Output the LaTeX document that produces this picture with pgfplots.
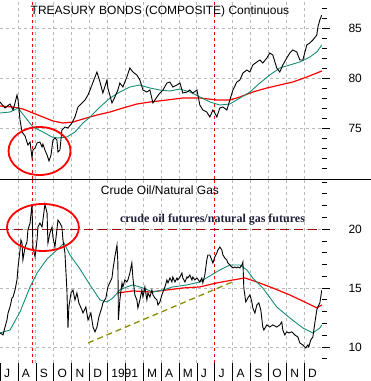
\documentclass[border=0pt]{standalone}
\usepackage{pgfplots}
\pgfplotsset{compat=1.18}
\usepackage{fontspec}
\setmainfont{Liberation Sans}
\newfontfamily\serifb{Liberation Serif}
\definecolor{maone}{RGB}{20,140,120}
\definecolor{gridgray}{RGB}{185,185,185}
\definecolor{darkredd}{RGB}{160,10,10}
\definecolor{olivel}{RGB}{140,140,0}
\definecolor{notetext}{RGB}{30,30,60}
\begin{document}
\begin{tikzpicture}
\useasboundingbox (0,0) rectangle (371pt,-381pt);
\pgfplotsset{
  common/.style={scale only axis, width=322pt, xmin=0, xmax=18,
    axis line style={draw=none},
    tick align=outside, ytick pos=right, yticklabel pos=right,
    major tick length=8pt, minor tick length=5pt,
    tick style={black, line width=0.6pt},
    xmajorgrids, ymajorgrids,
    grid style={gridgray, dash pattern=on 3pt off 3pt, line width=0.6pt},
    /pgf/number format/assume math mode=true,
    ticklabel style={font=\fontsize{12}{14}\selectfont},
    yticklabel style={anchor=west, xshift=15pt},
    xtick={1,...,17}, xticklabels={}, xmajorticks=false,
    extra x ticks={1.81,12}, extra x tick labels={},
    extra x tick style={major tick length=0pt, major grid style={red, dash pattern=on 3pt off 3pt, line width=0.8pt}},
  }
}
% ---------- top panel ----------
\begin{axis}[common, at={(0,0)}, anchor=north west, height=179pt,
  ymin=69.9, ymax=87.8, ytick={75,80,85}, minor ytick={71,...,87}]
\addplot[red, line width=1.2pt] coordinates {
(0,77.2) (0.73,77.1) (1.28,76.9) (1.84,76.5) (2.40,76.1) (2.96,75.7) (3.52,75.5)
(4.08,75.6) (4.64,75.9) (5.42,76.3) (6.15,76.6) (6.87,77.0) (7.65,77.4) (8.38,77.6)
(9.33,77.8) (10.22,78.0) (11.17,78.0) (12.12,77.8) (12.85,77.8) (13.41,78.1)
(14.13,78.6) (14.92,79.0) (15.64,79.3) (16.37,79.6) (17.15,80.1) (17.99,80.7)};
\addplot[maone, line width=0.9pt] coordinates {
(0,76.5) (0.56,76.6) (1.01,77.0) (1.40,76.1) (1.84,75.1) (2.40,74.6) (2.91,74.1)
(3.24,74.0) (3.74,74.1) (4.19,74.6) (4.64,75.5) (5.03,76.1) (5.59,77.1) (6.15,78.0)
(6.70,78.6) (7.26,79.1) (7.82,79.3) (8.38,79.0) (8.94,78.8) (9.50,78.7) (10.06,78.9)
(10.61,78.6) (11.17,78.1) (11.73,77.6) (12.29,77.3) (12.85,77.4) (13.41,78.0)
(13.97,78.6) (14.53,79.5) (15.08,80.3) (15.64,81.0) (16.20,81.3) (16.76,81.6)
(17.32,82.1) (17.71,82.6) (17.99,83.3)};
\addplot[black, line width=0.9pt] coordinates {
(0,77.6) (0.28,77.0) (0.56,77.4) (0.73,76.8) (0.84,77.5) (0.95,78.3) (1.01,77.8)
(1.12,75.8) (1.23,74.6) (1.40,74.2) (1.56,73.3) (1.68,73.6) (1.79,72.0) (1.84,72.8)
(1.96,73.0) (2.07,73.5) (2.23,73.6) (2.35,73.1) (2.40,73.4) (2.51,72.8) (2.63,72.3)
(2.74,71.7) (2.85,72.3) (2.96,73.8) (3.07,74.0) (3.18,73.8) (3.24,72.6) (3.35,72.8)
(3.46,74.8) (3.63,75.1) (3.80,75.0) (4.02,75.5) (4.19,76.1) (4.36,77.1) (4.58,77.5)
(4.75,77.8) (4.92,78.3) (5.14,79.3) (5.42,80.6) (5.59,79.6) (5.75,78.5) (5.98,79.8)
(6.03,79.0) (6.26,77.5) (6.42,78.1) (6.59,78.8) (6.70,79.5) (6.87,79.1) (7.09,80.1)
(7.26,81.0) (7.43,80.6) (7.65,80.3) (7.82,79.8) (7.99,78.8) (8.21,78.6) (8.38,78.8)
(8.55,77.5) (8.77,78.1) (8.94,78.5) (9.11,78.8) (9.33,79.5) (9.50,79.6) (9.66,79.1)
(9.89,79.3) (10.06,79.5) (10.22,78.5) (10.45,78.6) (10.61,78.8) (10.78,78.5)
(11.01,78.8) (11.17,77.3) (11.34,76.8) (11.56,76.6) (11.73,76.1) (11.90,76.8)
(12.01,76.5) (12.12,76.1) (12.29,77.0) (12.46,77.1) (12.68,76.8) (12.85,77.8)
(13.02,78.8) (13.24,79.6) (13.41,79.8) (13.58,80.5) (13.80,80.8) (13.97,80.6)
(14.13,81.3) (14.36,81.6) (14.53,81.8) (14.69,81.5) (14.92,82.0) (15.08,82.5)
(15.25,82.3) (15.47,81.0) (15.64,80.6) (15.81,81.3) (16.03,82.0) (16.20,82.5)
(16.37,82.8) (16.59,82.6) (16.76,81.8) (16.93,81.8) (17.15,83.3) (17.32,83.5)
(17.49,83.8) (17.71,84.3) (17.77,85.1) (17.88,85.8) (17.99,86.3)};
\draw[red, line width=1.8pt] (axis cs:2.21,72.7) ellipse [x radius=31pt, y radius=24pt];
\draw[black, line width=0.8pt] (rel axis cs:1,0) -- (rel axis cs:1,1);
\end{axis}
% ---------- bottom panel ----------
\begin{axis}[common, at={(0,-179pt)}, anchor=north west, height=184pt,
  ymin=8.64, ymax=24.24, ytick={10,15,20}, minor ytick={9,...,24}]
\addplot[darkredd, line width=1pt, dash pattern=on 9pt off 5pt] coordinates {(0,20) (17.9,20)};
\addplot[olivel, line width=1.3pt, dash pattern=on 6pt off 4pt] coordinates {(4.92,10.34) (13.13,15.6)};
\addplot[red, line width=1.2pt] coordinates {
(6.59,14.58) (7.43,14.75) (8.38,14.66) (9.33,14.83) (10.22,15.00) (11.17,15.09)
(12.12,15.43) (13.02,15.68) (13.69,15.85) (14.36,15.51) (15.25,15.00) (16.20,14.41)
(17.15,13.73) (17.71,13.31) (17.99,13.56)};
\addplot[maone, line width=0.9pt] coordinates {
(0,11.19) (0.56,11.44) (1.12,12.97) (1.68,15.09) (2.07,16.27) (2.63,17.46)
(3.18,18.22) (3.58,18.81) (3.91,17.80) (4.47,16.61) (5.03,15.26) (5.59,13.99)
(5.98,13.82) (6.31,14.15) (6.70,14.83) (7.09,15.09) (7.43,15.26) (7.99,15.00)
(8.55,14.66) (9.11,14.83) (9.66,15.09) (10.45,15.26) (11.17,15.51) (11.73,16.02)
(12.29,16.53) (12.85,16.95) (13.41,16.95) (13.80,16.53) (14.13,15.85) (14.69,15.00)
(15.47,13.39) (16.20,12.46) (16.93,11.61) (17.49,11.19) (17.88,11.61) (17.99,11.87)};
\addplot[black, line width=0.9pt] coordinates {
(0,11.19) (0.17,11.02) (0.28,11.69) (0.39,12.29) (0.45,12.88) (0.56,13.39) (0.67,14.15)
(0.73,14.24) (0.84,14.83) (0.95,15.68) (1.01,16.78) (1.12,18.22) (1.17,19.07)
(1.23,18.81) (1.28,17.37) (1.40,18.47) (1.51,18.90) (1.56,19.92) (1.68,20.51)
(1.79,22.1) (1.84,18.47) (1.96,17.63) (2.07,19.07) (2.12,20.17) (2.23,20.51)
(2.35,20.17) (2.40,20.76) (2.51,22.1) (2.63,21.36) (2.68,18.81) (2.79,19.66)
(2.91,20.17) (2.96,19.32) (3.07,18.47) (3.18,19.92) (3.24,20.76) (3.35,20.51)
(3.46,20.17) (3.52,19.07) (3.63,17.97) (3.74,14.83) (3.80,11.61) (3.85,13.39)
(3.97,14.58) (4.08,14.83) (4.19,13.99) (4.30,14.58) (4.41,13.73) (4.58,13.14)
(4.64,12.88) (4.80,13.39) (4.92,12.29) (5.08,12.88) (5.20,11.69) (5.31,11.28)
(5.42,11.69) (5.53,12.55) (5.70,13.39) (5.75,13.73) (5.92,14.15) (6.03,15.09)
(6.26,15.85) (6.31,16.53) (6.42,17.63) (6.54,18.64) (6.59,17.12) (6.62,12.29)
(6.70,13.99) (6.82,15.43) (6.87,15.09) (6.98,15.68) (7.09,15.51) (7.15,15.68)
(7.26,16.27) (7.37,17.12) (7.43,15.85) (7.54,14.41) (7.65,13.99) (7.71,13.31)
(7.82,13.99) (7.93,14.83) (7.99,14.24) (8.10,15.09) (8.21,13.99) (8.27,14.58)
(8.38,14.24) (8.49,14.83) (8.55,14.41) (8.66,14.15) (8.77,13.99) (8.83,13.56)
(8.94,13.82) (9.05,14.41) (9.11,14.66) (9.22,15.09) (9.33,15.68) (9.39,15.43)
(9.50,15.85) (9.61,15.51) (9.66,15.93) (9.78,15.51) (9.89,15.85) (9.94,15.68)
(10.06,15.93) (10.17,16.27) (10.22,15.85) (10.34,15.51) (10.45,15.93) (10.50,15.85)
(10.61,16.10) (10.73,15.68) (10.78,15.93) (10.89,15.68) (11.01,15.85) (11.17,15.51)
(11.28,15.85) (11.34,15.43) (11.45,16.10) (11.56,17.37) (11.62,17.80) (11.73,17.80)
(11.90,17.12) (12.01,17.63) (12.12,17.97) (12.18,18.22) (12.29,18.47) (12.40,18.22)
(12.46,17.80) (12.57,17.54) (12.68,17.37) (12.74,17.12) (12.85,16.95) (12.96,16.78)
(13.02,16.70) (13.13,16.78) (13.24,16.70) (13.30,16.78) (13.41,16.70) (13.52,16.95)
(13.58,17.20) (13.63,15.00) (13.74,13.82) (13.85,14.15) (13.97,14.41) (14.08,13.82)
(14.13,13.31) (14.25,12.88) (14.36,13.56) (14.47,13.73) (14.58,13.14) (14.69,11.69)
(14.75,11.44) (14.92,11.87) (15.08,11.69) (15.25,11.87) (15.47,11.69) (15.64,11.87)
(15.75,12.12) (15.81,11.44) (15.92,11.02) (16.03,11.28) (16.15,11.19) (16.31,11.28)
(16.48,11.02) (16.65,10.85) (16.76,10.34) (16.93,10.17) (17.09,9.92) (17.21,10.17)
(17.26,10.00) (17.37,10.59) (17.49,10.85) (17.60,12.04) (17.71,13.14) (17.77,13.39)
(17.88,13.73) (17.99,14.83)};
\draw[red, line width=1.8pt] (axis cs:2.40,20.13) ellipse [x radius=36pt, y radius=23.5pt];
\draw[black, line width=0.8pt] (rel axis cs:1,0) -- (rel axis cs:1,1);
\end{axis}
% ---------- month labels ----------
\begin{axis}[at={(0,-179pt)}, anchor=north west, scale only axis, width=322pt, height=184pt,
  xmin=0, xmax=18, ymin=0, ymax=1, axis line style={draw=none}, ytick=\empty,
  xtick={0,...,17}, xticklabels={J,A,S,O,N,D,1991,{},M,A,M,J,J,A,S,O,N,D},
  xtick pos=bottom, tick align=outside, major tick length=18pt,
  tick style={black, line width=0.5pt},
  xticklabel style={anchor=north west, xshift=0.5pt, yshift=15pt, font=\fontsize{12}{14}\selectfont}]
\end{axis}
\draw[black, line width=0.8pt] (0,-179pt) -- (371pt,-179pt);
\node[font=\fontsize{12}{14}\selectfont] at (160pt,-11pt) {TREASURY BONDS (COMPOSITE) Continuous};
\node[font=\fontsize{12}{14}\selectfont] at (160pt,-190pt) {Crude Oil/Natural Gas};
\node[font=\serifb\bfseries\fontsize{12}{14}\selectfont, text=notetext] at (212.5pt,-220pt) {crude oil futures/natural gas futures};
\end{tikzpicture}
\end{document}
